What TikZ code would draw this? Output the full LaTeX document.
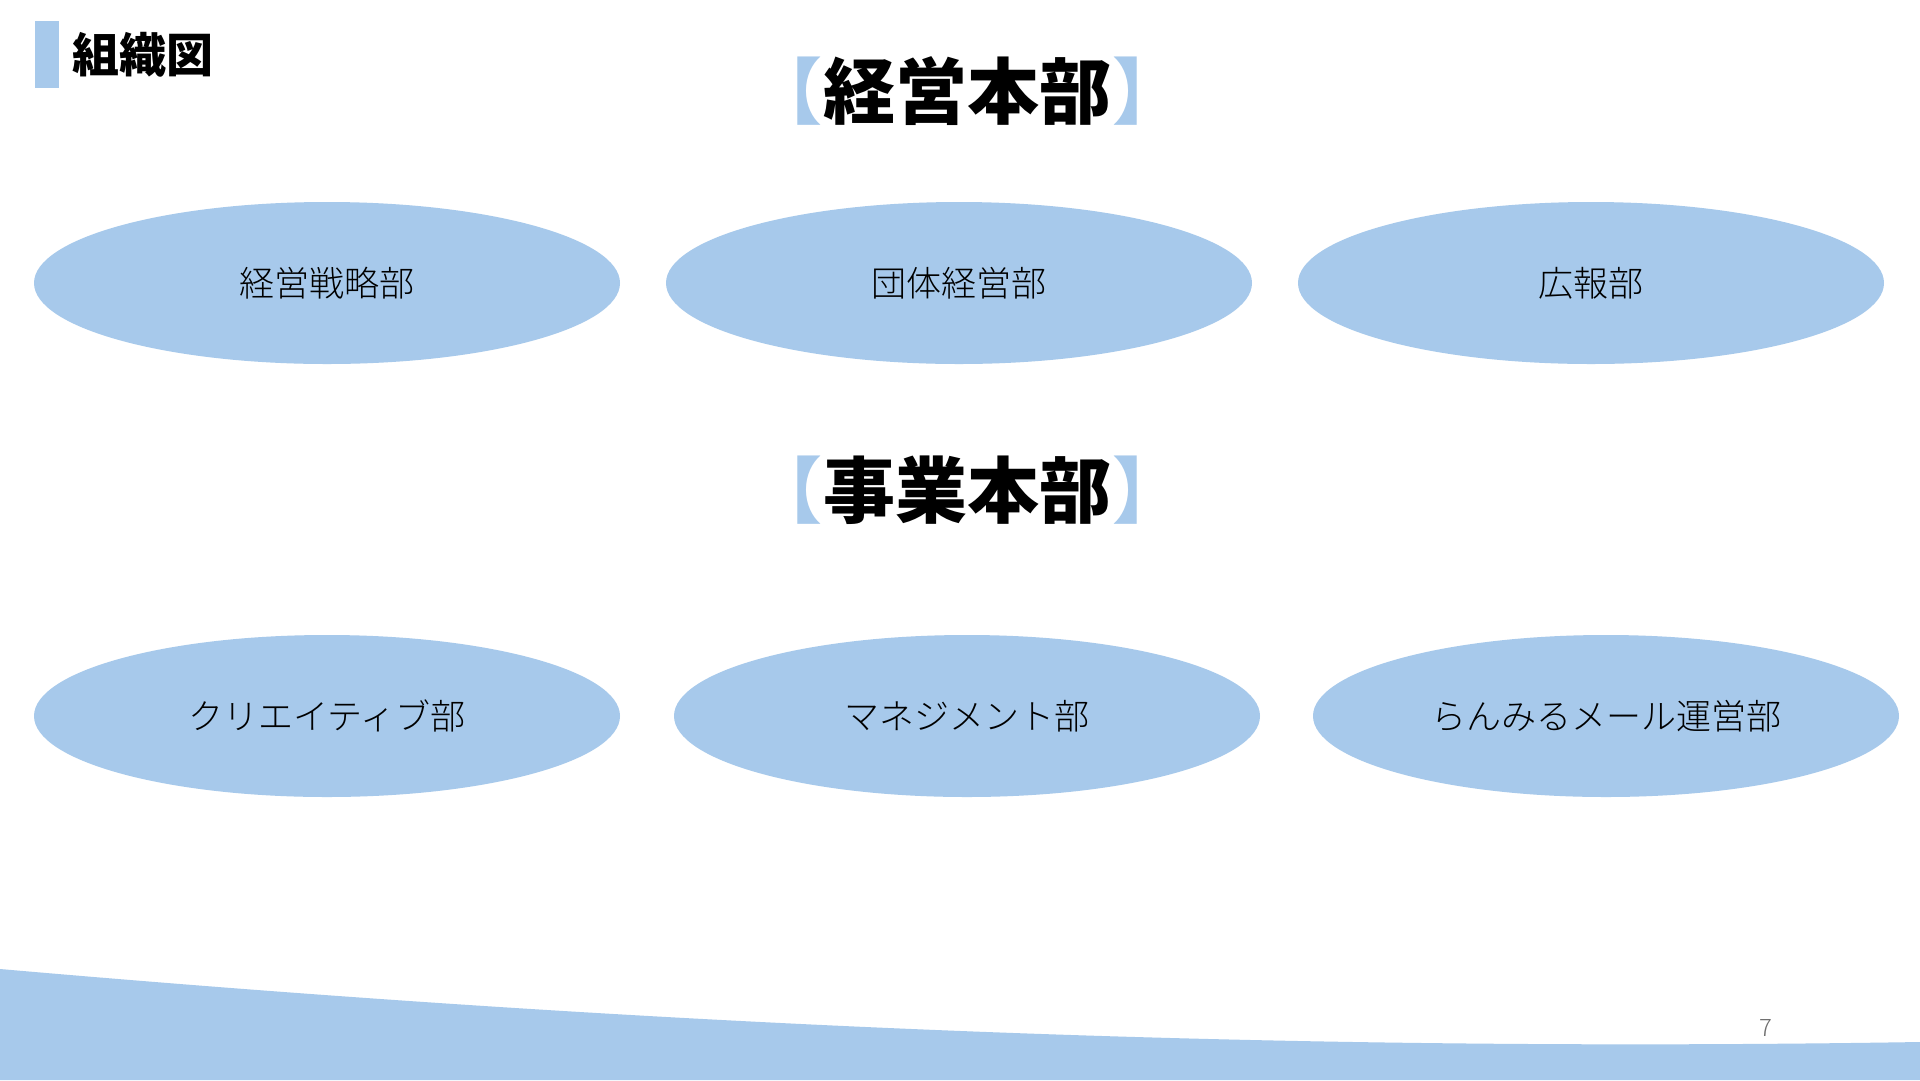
\documentclass[tikz,border=0pt]{standalone}
\usepackage{fontspec}
\setmainfont{Noto Sans CJK JP}
\newfontfamily\jp{Noto Sans CJK JP}
\newfontfamily\jplight{Noto Sans CJK JP Light}
\usetikzlibrary{shapes.geometric}
\definecolor{lblue}{RGB}{167,201,235}
\definecolor{pgray}{RGB}{110,110,110}
\begin{document}
\begin{tikzpicture}[x=1pt,y=-1pt,
  dept/.style={ellipse, fill=lblue, minimum width=586pt, minimum height=162pt, inner sep=0pt,
    font=\jplight\fontsize{35}{40}\selectfont, text=black},
  head/.style={inner sep=0pt, font=\jp\bfseries\fontsize{72}{80}\selectfont, text=black}]
\useasboundingbox (0,0) rectangle (1920,1080);
\fill[white] (0,0) rectangle (1920,1080);
% bottom wave
\fill[lblue] (0,969) .. controls (700,1030) and (1300,1052) .. (1920,1042) -- (1920,1080) -- (0,1080) -- cycle;
% title
\fill[lblue] (35,21) rectangle (59,88);
\node[anchor=west, inner sep=0pt, font=\jp\bfseries\fontsize{47}{52}\selectfont] (title) at (72,55) {組織図};
% headings
\node[head] (h1) at (967,91) {{\color{lblue}【}\kern1pt 経営本部\kern1pt{\color{lblue}】}};
\node[head] (h2) at (967,490) {{\color{lblue}【}\kern1pt 事業本部\kern1pt{\color{lblue}】}};
% departments
\node[dept] (d1) at (327,283) {経営戦略部};
\node[dept] (d2) at (959,283) {団体経営部};
\node[dept] (d3) at (1591,283) {広報部};
\node[dept] (d4) at (327,716) {クリエイティブ部};
\node[dept] (d5) at (967,716) {マネジメント部};
\node[dept] (d6) at (1606,716) {らんみるメール運営部};
% page number
\node[inner sep=0pt, text=pgray, font=\jplight\fontsize{24}{28}\selectfont] (pg) at (1766,1028) {7};
\end{tikzpicture}
\end{document}
